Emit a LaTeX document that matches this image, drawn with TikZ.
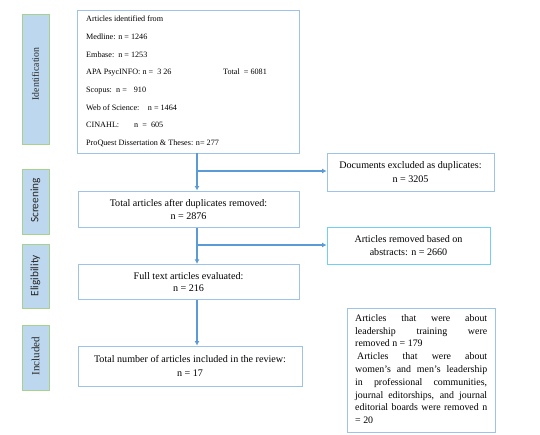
\documentclass[tikz,border=0pt]{standalone}
\usepackage{fontspec}
\setmainfont{Liberation Serif}
\newfontfamily\calib{Carlito}
\usetikzlibrary{arrows.meta}
\definecolor{sidefill}{HTML}{BDD7EE}
\definecolor{sideline}{HTML}{A9D18E}
\definecolor{boxline}{HTML}{9DC3E6}
\definecolor{cyanline}{HTML}{6FD0F3}
\definecolor{conn}{HTML}{5B9BD5}
\tikzset{
  sidebox/.style={draw=sideline, fill=sidefill, line width=0.9pt, minimum width=27.5pt, inner sep=0pt},
  sidelabel/.style={rotate=90, inner sep=0pt, text=black!85},
  flowbox/.style={draw=boxline, line width=0.9pt, inner sep=0pt, align=center, font=\fontsize{10.1}{13.3}\selectfont},
  conn/.style={draw=conn, line width=1.1pt},
  arr/.style={conn, -{Latex[length=4.5pt,width=5pt]}}
}
\begin{document}
\begin{tikzpicture}[x=1pt,y=-1pt]
\useasboundingbox (0,0) rectangle (540,434);
% side boxes
\node[sidebox, minimum height=130pt] (sid) at (35.8,79) {};
\node[sidebox, minimum height=65pt] (sscr) at (35.8,201.5) {};
\node[sidebox, minimum height=64pt] (selg) at (35.8,276) {};
\node[sidebox, minimum height=65pt] (sinc) at (35.8,357.5) {};
\node[sidelabel, font=\fontsize{9.8}{10}\selectfont] (lid) at (35.5,74) {Identification};
\node[sidelabel, font=\calib\fontsize{11.3}{12}\selectfont] (lscr) at (35.5,200.5) {Screening};
\node[sidelabel, font=\calib\fontsize{11.3}{12}\selectfont] (lelg) at (35.5,275.5) {Eligibility};
\node[sidelabel, font=\fontsize{11}{12}\selectfont] (linc) at (35.5,356) {Included};
% identification box
\node[flowbox, minimum width=222pt, minimum height=143pt] (idbox) at (188,81.5) {};
\node[anchor=north west, inner sep=0pt, align=left, font=\fontsize{8.15}{17.67}\selectfont] (idtext) at (86,15.9) {%
Articles identified from\\
Medline: n = 1246\\
Embase:\ \ n = 1253\\
\makebox[137pt][l]{APA PsycINFO: n =\ \ 3 26}Total\ \ = 6081\\
\makebox[30pt][l]{Scopus:}n =\hspace{7pt}910\\
\makebox[61.7pt][l]{Web of Science:}n = 1464\\
\makebox[48pt][l]{CINAHL:}n\ \ =\ \ 605\\
ProQuest Dissertation \& Theses: n= 277};
% flow boxes
\node[flowbox, minimum width=167pt, minimum height=38pt] (dup) at (410.5,172) {Documents excluded as duplicates:\\ n = 3205};
\node[flowbox, minimum width=221pt, minimum height=36.5pt] (scr) at (188.5,209.2) {Total articles after duplicates removed:\\ n = 2876};
\node[flowbox, draw=cyanline, minimum width=163pt, minimum height=37pt, font=\fontsize{10.1}{12.5}\selectfont] (abs) at (408.5,245.5) {Articles removed based on\\ abstracts: n = 2660};
\node[flowbox, minimum width=221pt, minimum height=35pt, font=\fontsize{10.1}{12.5}\selectfont] (full) at (188.5,281.8) {Full text articles evaluated:\\ n = 216};
\node[flowbox, minimum width=224pt, minimum height=40pt] (inc) at (190,366) {Total number of articles included in the review:\\ n = 17};
\node[flowbox, minimum width=148pt, minimum height=124pt] (note) at (421,370) {};
\node[anchor=north west, inner sep=0pt, text width=132pt, align=justify, font=\fontsize{9.9}{12.8}\selectfont] (notetext) at (355,314.3) {%
\hyphenpenalty=10000\exhyphenpenalty=10000\parindent=0pt\emergencystretch=20pt
Articles that were about\linebreak leadership training were\linebreak removed n = 179\par
\hspace*{2pt}Articles that were about\linebreak women’s and men’s leadership\linebreak in professional communities,\linebreak journal editorships, and journal\linebreak editorial boards were removed n\linebreak = 20};
% connectors
\coordinate (b1) at (197,171);
\coordinate (b2) at (197,245);
\draw[arr] (idbox.south -| b1) -- (scr.north -| b1);
\draw[arr] (b1) -- (dup.west |- b1);
\draw[arr] (scr.south -| b1) -- (full.north -| b1);
\draw[arr] (b2) -- (abs.west |- b2);
\draw[arr] (full.south -| b1) -- (inc.north -| b1);
\end{tikzpicture}
\end{document}
